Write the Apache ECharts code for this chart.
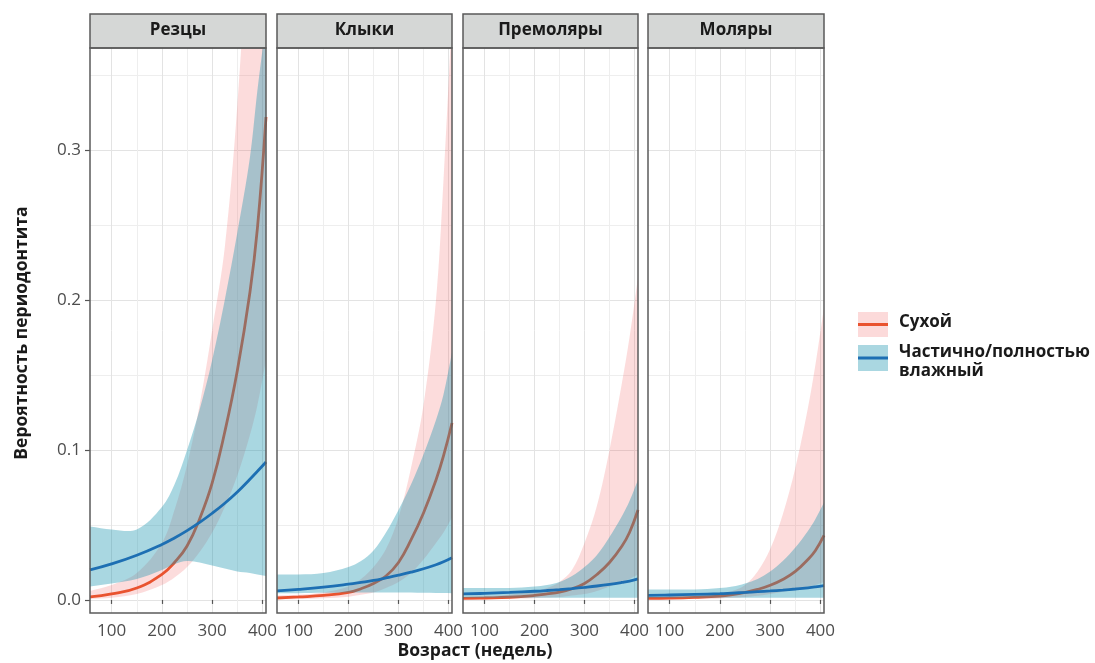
<!DOCTYPE html>
<html>
<head>
<meta charset="utf-8">
<script src="https://cdn.jsdelivr.net/npm/echarts@6.0.0/dist/echarts.min.js"></script>
<style>
  html, body { margin: 0; padding: 0; background: #fff; }
  #chart { width: 1095px; height: 663px; }
</style>
</head>
<body>
<div id="chart"></div>
<script>
// Age grid (weeks) shared by all panels
const weeks = [57, 100, 150, 200, 225, 250, 275, 300, 325, 350, 375, 390, 407];

const panelNames = ['Резцы', 'Клыки', 'Премоляры', 'Моляры'];
const groupNames = ['Сухой', 'Частично/полностью\nвлажный'];

const xTickValues = [100, 200, 300, 400];
const yTickValues = [0, 0.1, 0.2, 0.3];

// Резцы
const rezDry   = [0.002, 0.004, 0.008, 0.017, 0.025, 0.036, 0.054, 0.078, 0.112, 0.153, 0.205, 0.248, 0.322];
const rezDryLo = [0.0007, 0.0015, 0.004, 0.01, 0.015, 0.022, 0.032, 0.045, 0.062, 0.083, 0.11, 0.13, 0.16];
const rezDryHi = [0.006, 0.01, 0.018, 0.038, 0.06, 0.09, 0.13, 0.18, 0.235, 0.33, 0.47, 0.58, 0.75];
const rezWet   = [0.02, 0.024, 0.0298, 0.037, 0.0413, 0.0462, 0.0517, 0.0578, 0.0645, 0.072, 0.0805, 0.0858, 0.092];
const rezWetLo = [0.009, 0.011, 0.014, 0.02, 0.024, 0.026, 0.025, 0.023, 0.021, 0.019, 0.018, 0.017, 0.016];
const rezWetHi = [0.049, 0.047, 0.047, 0.062, 0.077, 0.1, 0.127, 0.16, 0.2, 0.245, 0.295, 0.34, 0.385];

// Клыки
const klyDry   = [0.0013, 0.002, 0.003, 0.005, 0.0075, 0.011, 0.016, 0.025, 0.04, 0.058, 0.08, 0.096, 0.118];
const klyDryLo = [0.0004, 0.0007, 0.0012, 0.0022, 0.0035, 0.005, 0.008, 0.012, 0.018, 0.027, 0.038, 0.045, 0.055];
const klyDryHi = [0.003, 0.0035, 0.005, 0.009, 0.014, 0.022, 0.034, 0.055, 0.088, 0.13, 0.2, 0.28, 0.39];
const klyWet   = [0.006, 0.007, 0.0085, 0.0105, 0.0117, 0.013, 0.0147, 0.0165, 0.0185, 0.0208, 0.0235, 0.0255, 0.0282];
const klyWetLo = [0.0045, 0.0045, 0.0048, 0.005, 0.005, 0.005, 0.005, 0.005, 0.005, 0.0048, 0.0047, 0.0046, 0.0045];
const klyWetHi = [0.017, 0.017, 0.018, 0.022, 0.026, 0.033, 0.045, 0.06, 0.077, 0.097, 0.12, 0.137, 0.165];

// Премоляры
const premDry   = [0.001, 0.0013, 0.0018, 0.003, 0.004, 0.0052, 0.0075, 0.011, 0.017, 0.025, 0.036, 0.045, 0.06];
const premDryLo = [0.0003, 0.0005, 0.0008, 0.0012, 0.0016, 0.002, 0.003, 0.004, 0.006, 0.009, 0.012, 0.014, 0.017];
const premDryHi = [0.002, 0.0025, 0.0035, 0.006, 0.008, 0.012, 0.02, 0.038, 0.063, 0.1, 0.145, 0.175, 0.215];
const premWet   = [0.004, 0.0044, 0.005, 0.0058, 0.0063, 0.0069, 0.0076, 0.0084, 0.0093, 0.0104, 0.0117, 0.0126, 0.014];
const premWetLo = [0.0015, 0.0015, 0.0015, 0.0015, 0.0015, 0.0015, 0.0015, 0.0015, 0.0015, 0.0015, 0.0015, 0.0015, 0.0015];
const premWetHi = [0.008, 0.008, 0.008, 0.009, 0.01, 0.012, 0.016, 0.022, 0.03, 0.042, 0.056, 0.066, 0.08];

// Моляры
const molDry   = [0.001, 0.0012, 0.0017, 0.0025, 0.0035, 0.005, 0.007, 0.0098, 0.0137, 0.019, 0.027, 0.033, 0.043];
const molDryLo = [0.0003, 0.0004, 0.0006, 0.001, 0.0014, 0.002, 0.0028, 0.004, 0.0055, 0.007, 0.009, 0.01, 0.012];
const molDryHi = [0.002, 0.0022, 0.003, 0.0045, 0.006, 0.01, 0.019, 0.034, 0.057, 0.088, 0.128, 0.157, 0.195];
const molWet   = [0.003, 0.0033, 0.0037, 0.0042, 0.0046, 0.005, 0.0055, 0.006, 0.0066, 0.0073, 0.0081, 0.0087, 0.0095];
const molWetLo = [0.0015, 0.0015, 0.0015, 0.0015, 0.0015, 0.0015, 0.0015, 0.0015, 0.0015, 0.0015, 0.0015, 0.0015, 0.0015];
const molWetHi = [0.007, 0.007, 0.007, 0.008, 0.009, 0.011, 0.014, 0.019, 0.026, 0.035, 0.046, 0.054, 0.065];

const panels = [
  { dry: rezDry,  dryLo: rezDryLo,  dryHi: rezDryHi,  wet: rezWet,  wetLo: rezWetLo,  wetHi: rezWetHi },
  { dry: klyDry,  dryLo: klyDryLo,  dryHi: klyDryHi,  wet: klyWet,  wetLo: klyWetLo,  wetHi: klyWetHi },
  { dry: premDry, dryLo: premDryLo, dryHi: premDryHi, wet: premWet, wetLo: premWetLo, wetHi: premWetHi },
  { dry: molDry,  dryLo: molDryLo,  dryHi: molDryHi,  wet: molWet,  wetLo: molWetLo,  wetHi: molWetHi }
];

// Layout of the facet panels
const panelLeft = [90, 277, 463, 648];
const panelWidth = [176, 175, 175, 176];
const panelTop = 48;
const panelHeight = 565;
const stripTop = 14;
const stripHeight = 34;

const FONT = '"Open Sans", "Noto Sans", sans-serif';
const redLine = '#e9532f';
const blueLine = '#1d6fb3';
const redBand = 'rgba(240, 70, 70, 0.19)';
const blueBand = 'rgba(30, 150, 175, 0.38)';
const redKey = 'rgb(252, 218, 218)';
const blueKey = 'rgb(170, 215, 225)';

function toPairs(ys) { return weeks.map((w, k) => [w, ys[k]]); }

// Confidence ribbon: polygon through the upper bound and back along the lower bound
function bandSeries(i, lo, hi, fill, z, name) {
  return {
    type: 'custom',
    name: name,
    xAxisIndex: i,
    yAxisIndex: i,
    z: z,
    silent: true,
    clip: true,
    data: [[weeks[0], lo[0]]],
    renderItem: function (params, api) {
      const top = weeks.map((w, k) => api.coord([w, hi[k]]));
      const bottom = weeks.map((w, k) => api.coord([w, lo[k]])).reverse();
      const n = top.length;
      // corners repeated so the smoothed outline keeps square ends
      const pts = [top[0]].concat(top, [top[n - 1], bottom[0]], bottom, [bottom[n - 1]]);
      const cs = params.coordSys;
      return {
        type: 'group',
        clipPath: { type: 'rect', shape: { x: cs.x, y: cs.y, width: cs.width, height: cs.height } },
        children: [{
          type: 'polygon',
          shape: { points: pts, smooth: 0.35 },
          style: { fill: fill, stroke: null }
        }]
      };
    }
  };
}

function lineSeries(i, ys, color, z, name) {
  return {
    type: 'line',
    name: name,
    xAxisIndex: i,
    yAxisIndex: i,
    z: z,
    data: toPairs(ys),
    smooth: 0.45,
    showSymbol: false,
    silent: true,
    clip: true,
    lineStyle: { color: color, width: 2.8 }
  };
}

const grids = [], xAxes = [], yAxes = [], series = [], graphics = [];

panels.forEach((p, i) => {
  grids.push({
    left: panelLeft[i], top: panelTop, width: panelWidth[i], height: panelHeight,
    show: true, backgroundColor: '#fff', borderWidth: 0
  });
  xAxes.push({
    type: 'value', gridIndex: i, min: 57, max: 407, splitNumber: 3,
    axisLine: { show: false },
    axisTick: { show: true, length: 4, customValues: xTickValues, lineStyle: { color: '#555', width: 1.2 } },
    axisLabel: { customValues: xTickValues, margin: 10, fontSize: 17, color: '#4d4d4d', fontFamily: FONT },
    splitLine: { show: true, lineStyle: { color: '#e3e3e3', width: 1 } },
    minorTick: { show: false, splitNumber: 2 },
    minorSplitLine: { show: true, lineStyle: { color: '#eeeeee', width: 1 } }
  });
  yAxes.push({
    type: 'value', gridIndex: i, min: -0.0087, max: 0.368, splitNumber: 4,
    axisLine: { show: false },
    axisTick: { show: i === 0, length: 5, customValues: yTickValues, lineStyle: { color: '#555', width: 1.2 } },
    axisLabel: {
      show: i === 0, customValues: yTickValues, margin: 9, fontSize: 17, color: '#4d4d4d', fontFamily: FONT,
      formatter: v => v.toFixed(1)
    },
    splitLine: { show: true, lineStyle: { color: '#e3e3e3', width: 1 } },
    minorTick: { show: false, splitNumber: 2 },
    minorSplitLine: { show: true, lineStyle: { color: '#eeeeee', width: 1 } }
  });

  series.push(bandSeries(i, p.dryLo, p.dryHi, redBand, 3, groupNames[0]));
  series.push(lineSeries(i, p.dry, redLine, 4, groupNames[0]));
  series.push(bandSeries(i, p.wetLo, p.wetHi, blueBand, 5, groupNames[1]));
  series.push(lineSeries(i, p.wet, blueLine, 6, groupNames[1]));

  // facet strip with its label
  graphics.push({
    type: 'rect', z: 100,
    shape: { x: panelLeft[i], y: stripTop, width: panelWidth[i], height: stripHeight },
    style: { fill: '#d5d7d6', stroke: '#595959', lineWidth: 1.5 }
  });
  graphics.push({
    type: 'text', z: 101,
    x: panelLeft[i] + panelWidth[i] / 2, y: stripTop + stripHeight / 2 - 1,
    style: { text: panelNames[i], font: 'bold 17px ' + FONT, fill: '#1a1a1a', align: 'center', verticalAlign: 'middle' }
  });
  // panel frame on top of the ribbons
  graphics.push({
    type: 'rect', z: 100,
    shape: { x: panelLeft[i], y: panelTop, width: panelWidth[i], height: panelHeight },
    style: { fill: null, stroke: '#5b5b5b', lineWidth: 1.5 }
  });
});

// axis titles
graphics.push({
  type: 'text', z: 101, x: 475, y: 651,
  style: { text: 'Возраст (недель)', font: 'bold 17.5px ' + FONT, fill: '#1a1a1a', align: 'center', verticalAlign: 'middle' }
});
graphics.push({
  type: 'text', z: 101, x: 22, y: 333, rotation: Math.PI / 2,
  style: { text: 'Вероятность периодонтита', font: 'bold 17.5px ' + FONT, fill: '#1a1a1a', align: 'center', verticalAlign: 'middle' }
});

// legend keys: ribbon swatch with the fitted line across it
const legendKeys = [
  { y: 312, h: 25, fill: redKey, line: redLine, label: groupNames[0], labelY: 322 },
  { y: 345, h: 26, fill: blueKey, line: blueLine, label: groupNames[1], labelY: 362 }
];
legendKeys.forEach(k => {
  graphics.push({ type: 'rect', z: 101, shape: { x: 858, y: k.y, width: 30, height: k.h }, style: { fill: k.fill } });
  graphics.push({
    type: 'line', z: 102,
    shape: { x1: 858, y1: k.y + k.h / 2, x2: 888, y2: k.y + k.h / 2 },
    style: { stroke: k.line, lineWidth: 3 }
  });
  graphics.push({
    type: 'text', z: 102, x: 899, y: k.labelY,
    style: { text: k.label, font: 'bold 17px ' + FONT, lineHeight: 19, fill: '#1a1a1a', align: 'left', verticalAlign: 'middle' }
  });
});

const chart = echarts.init(document.getElementById('chart'), null, { renderer: 'canvas' });
chart.setOption({
  backgroundColor: '#fff',
  animation: false,
  grid: grids,
  xAxis: xAxes,
  yAxis: yAxes,
  series: series,
  graphic: { elements: graphics }
});
</script>
</body>
</html>
